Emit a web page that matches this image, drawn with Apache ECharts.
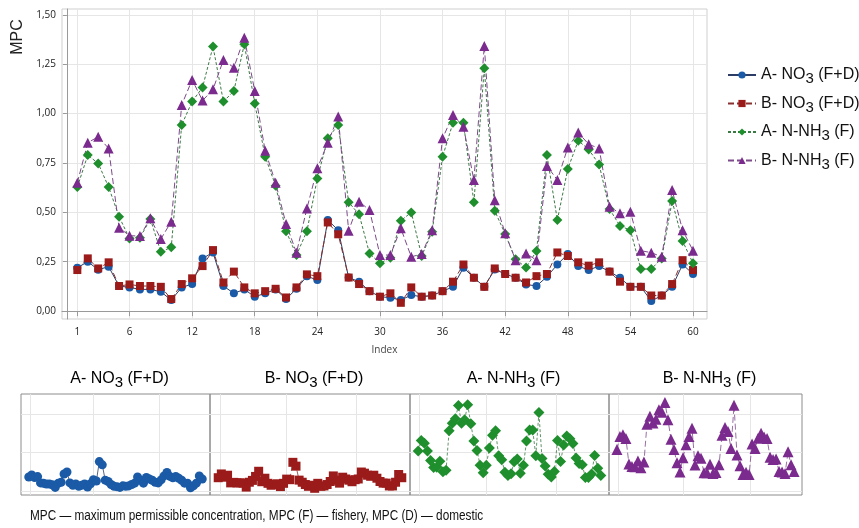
<!DOCTYPE html>
<html><head><meta charset="utf-8">
<script src="https://cdn.jsdelivr.net/npm/echarts@6/dist/echarts.min.js"></script>
<style>html,body{margin:0;padding:0;background:#fff}#c{width:859px;height:528px}</style>
</head><body><div id="c"></div>
<script>
const seriesNames = ['A- NO3 (F+D)', 'B- NO3 (F+D)', 'A- N-NH3 (F)', 'B- N-NH3 (F)'];
const A_NO3 = [0.22,0.25,0.21,0.225,0.127,0.12,0.11,0.11,0.098,0.056,
  0.12,0.137,0.267,0.297,0.127,0.09,0.11,0.073,0.09,0.11,
  0.061,0.113,0.177,0.157,0.461,0.41,0.17,0.149,0.101,0.073,
  0.068,0.056,0.081,0.073,0.079,0.101,0.123,0.22,0.169,0.123,
  0.211,0.188,0.169,0.135,0.127,0.174,0.236,0.289,0.228,0.208,
  0.228,0.2,0.169,0.123,0.123,0.051,0.079,0.123,0.236,0.188];
const B_NO3 = [0.208,0.267,0.216,0.247,0.127,0.135,0.127,0.127,0.123,0.061,
  0.137,0.166,0.228,0.309,0.145,0.2,0.12,0.09,0.101,0.113,
  0.069,0.12,0.186,0.177,0.449,0.389,0.17,0.137,0.101,0.073,
  0.09,0.042,0.12,0.073,0.079,0.101,0.149,0.236,0.169,0.123,
  0.216,0.188,0.169,0.145,0.177,0.188,0.297,0.279,0.247,0.23,
  0.247,0.2,0.149,0.123,0.123,0.079,0.079,0.137,0.258,0.208];
const A_NH3 = [0.628,0.79,0.748,0.628,0.478,0.368,0.372,0.466,0.30,0.323,
  0.943,1.061,1.133,1.34,1.061,1.115,1.351,1.052,0.782,0.635,
  0.405,0.284,0.405,0.672,0.875,0.943,0.551,0.49,0.292,0.242,
  0.27,0.458,0.5,0.279,0.402,0.782,0.954,0.954,0.551,1.23,
  0.508,0.39,0.262,0.221,0.304,0.79,0.461,0.72,0.863,0.819,
  0.743,0.517,0.431,0.41,0.213,0.213,0.267,0.557,0.355,0.242];
const B_NH3 = [0.65,0.853,0.883,0.824,0.422,0.382,0.38,0.47,0.365,0.453,
  1.044,1.171,1.066,1.123,1.272,1.233,1.385,1.115,0.812,0.65,
  0.441,0.296,0.52,0.723,0.853,0.985,0.407,0.554,0.512,0.284,
  0.284,0.419,0.275,0.289,0.41,0.875,0.993,0.934,0.664,1.343,
  0.562,0.394,0.258,0.292,0.258,0.735,0.664,0.828,0.904,0.845,
  0.824,0.529,0.495,0.503,0.306,0.296,0.275,0.613,0.41,0.306];
const xTicks = [1,6,12,18,24,30,36,42,48,54,60];
const yTicks = [0,0.25,0.5,0.75,1.0,1.25,1.5];
const footnote = 'MPC — maximum permissible concentration, MPC (F) — fishery, MPC (D) — domestic';

const allData = [A_NO3, B_NO3, A_NH3, B_NH3];
const toPairs = arr => arr.map((v, i) => [i + 1, v]);

const styles = [
  {symbol:'circle', size:8, psize:9, color:'#1a5aa6', line:'#2d3e66', type:'solid'},
  {symbol:'rect', size:8, psize:9, color:'#9b1b1b', line:'#8a3030', type:[6,3]},
  {symbol:'diamond', size:10, psize:11, color:'#1f8f2d', line:'#3b7a45', type:[3,2]},
  {symbol:'triangle', size:10, psize:11, color:'#7b2a8e', line:'#7d4a8a', type:[6,3]}
];
const subRich = {
  t: {fontFamily:'Liberation Sans, Arial, sans-serif', fontSize:16, color:'#111'},
  s: {fontFamily:'Liberation Sans, Arial, sans-serif', fontSize:15, color:'#111', padding:[8,0,0,0]}
};
const richName = n => n.replace(/^(.*?)(3)(.*)$/, '{t|$1}{s|$2}{t|$3}');

const grids = [{left:62, top:9, width:645, height:310, show:true, borderColor:'#cfcfcf', borderWidth:1}];
const panelL = [21, 210, 410, 609], panelR = [210, 410, 609, 802];
for (let p = 0; p < 4; p++) grids.push({left:panelL[p], top:394, width:panelR[p]-panelL[p], height:101, show:true, borderColor:'#8c8c8c', borderWidth:1});

const xAxes = [{
  type:'value', gridIndex:0, min:-0.47, max:61.34,
  name:'Index', nameLocation:'middle', nameGap:26,
  nameTextStyle:{fontFamily:'Open Sans, sans-serif', fontSize:10, color:'#444'},
  axisLine:{lineStyle:{color:'#9a9a9a'}},
  axisTick:{show:true, length:5, customValues:xTicks, lineStyle:{color:'#9a9a9a'}},
  axisLabel:{customValues:xTicks, margin:8, fontFamily:'Open Sans, sans-serif', fontSize:10, color:'#222'},
  splitLine:{show:true, lineStyle:{color:'#e6e6e6'}}
}];
const yAxes = [{
  type:'value', gridIndex:0, min:-0.04, max:1.53,
  axisLine:{show:true, lineStyle:{color:'#9a9a9a'}},
  axisTick:{show:true, length:4, customValues:yTicks, lineStyle:{color:'#9a9a9a'}},
  axisLabel:{customValues:yTicks, margin:6, fontFamily:'Open Sans, sans-serif', fontSize:10, color:'#222',
    formatter: v => v.toFixed(2).replace('.', ',')},
  splitLine:{show:true, lineStyle:{color:'#e6e6e6'}}
}];
for (let p = 0; p < 4; p++) {
  xAxes.push({type:'value', gridIndex:p+1, min:-1.64, max:62.64,
    axisLine:{show:false}, axisLabel:{show:false},
    axisTick:{show:false, customValues:[1.5,23,45.5]},
    splitLine:{show:true, lineStyle:{color:'#e6e6e6'}}});
  yAxes.push({type:'value', gridIndex:p+1, min:-0.063, max:1.52,
    axisLine:{show:false}, axisLabel:{show:false},
    axisTick:{show:false, customValues:[0,0.6,1.2]},
    splitLine:{show:true, lineStyle:{color:'#e6e6e6'}}});
}

const series = [];
allData.forEach((arr, k) => {
  const st = styles[k];
  series.push({
    name: seriesNames[k], type:'line', xAxisIndex:0, yAxisIndex:0,
    data: toPairs(arr), symbol: st.symbol, symbolSize: st.size, showSymbol:true,
    itemStyle:{color: st.color}, lineStyle:{color: st.line, width:1, type: st.type},
    animation:false
  });
});
allData.forEach((arr, k) => {
  const st = styles[k];
  series.push({
    type:'line', xAxisIndex:k+1, yAxisIndex:k+1,
    data: toPairs(arr), symbol: st.symbol, symbolSize: st.psize, showSymbol:true,
    itemStyle:{color: st.color}, lineStyle:{color: st.line, width:0.8, type: st.type},
    animation:false
  });
});

const graphics = [
  {type:'text', x:18, y:37, rotation:Math.PI/2, style:{text:'MPC', fontFamily:'Liberation Sans, Arial, sans-serif', fontSize:16, fill:'#222', align:'center', verticalAlign:'middle'}},
  {type:'text', x:30, y:516, scaleX:0.785, style:{text:footnote, fontFamily:'Liberation Sans, Arial, sans-serif', fontSize:15, fill:'#111', align:'left', verticalAlign:'middle'}}
];
for (let p = 0; p < 4; p++) {
  graphics.push({type:'text', x:(panelL[p]+panelR[p])/2 + 4, y:379,
    style:{text: richName(seriesNames[p]), rich: subRich, align:'center', verticalAlign:'middle'}});
}

const chart = echarts.init(document.getElementById('c'), null, {renderer:'canvas'});
chart.setOption({
  animation:false,
  backgroundColor:'#fff',
  grid: grids, xAxis: xAxes, yAxis: yAxes, series: series,
  legend: {
    orient:'vertical', left:722, top:62, itemWidth:28, itemHeight:9, itemGap:9,
    data: seriesNames,
    formatter: n => richName(n),
    textStyle:{rich: subRich}
  },
  graphic: graphics
});
</script></body></html>
